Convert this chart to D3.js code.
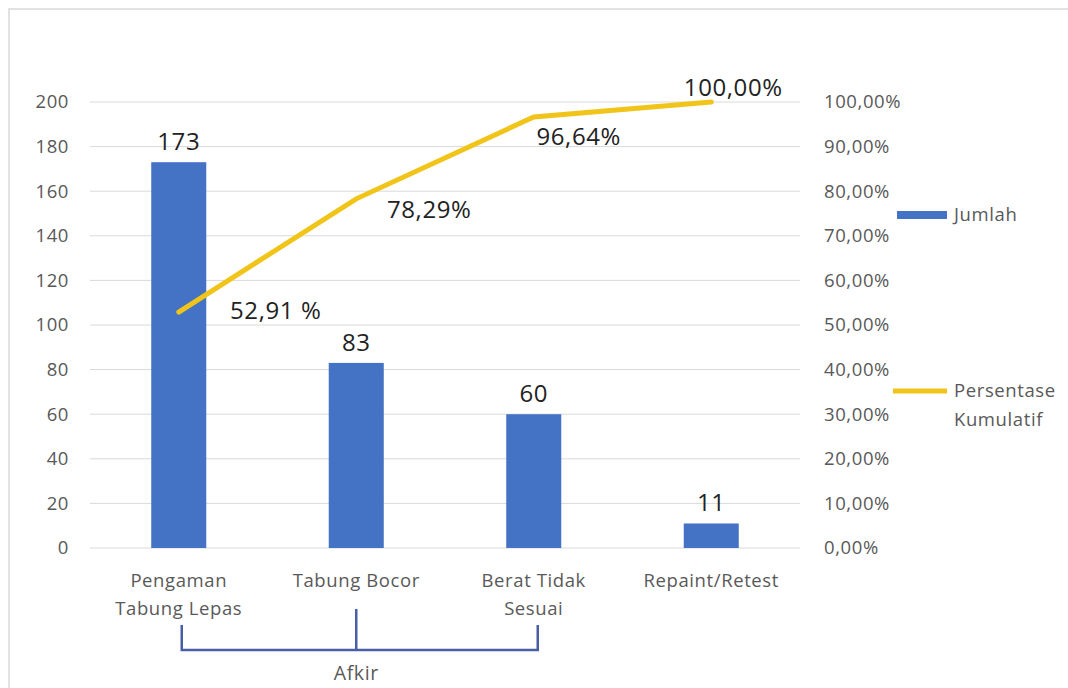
<!DOCTYPE html>
<html><head><meta charset="utf-8">
<script src="https://cdn.jsdelivr.net/npm/d3@7"></script>
<style>body{margin:0;background:#fff}svg{display:block}</style>
</head><body>
<script>
const categories = [["Pengaman","Tabung Lepas"],["Tabung Bocor"],["Berat Tidak","Sesuai"],["Repaint/Retest"]];
const jumlah = [173, 83, 60, 11];
const kumulatif = [52.91, 78.29, 96.64, 100.00];
const kumulatifLabels = ["52,91 %", "78,29%", "96,64%", "100,00%"];
const leftTicks = [0,20,40,60,80,100,120,140,160,180,200];
const rightTicks = [0,10,20,30,40,50,60,70,80,90,100];
const groupLabel = "Afkir";

const W = 1068, H = 688;
const svg = d3.select("body").append("svg").attr("width", W).attr("height", H);
const font = "'Open Sans', sans-serif";
const small = 18.5, ls = "0.6px";
const big = 24, lsBig = "0.6px";

svg.append("rect").attr("x",9).attr("y",9).attr("width",1070).attr("height",700)
  .attr("fill","#fff").attr("stroke","#d9d9d9").attr("stroke-width",1.5);

const x0 = 90, x1 = 800, yTop = 102, yBot = 548;
const x = d3.scaleBand().domain(d3.range(categories.length)).range([x0, x1]).paddingInner(0.69).paddingOuter(0.345);
const yL = d3.scaleLinear().domain([0,200]).range([yBot, yTop]);
const yR = d3.scaleLinear().domain([0,100]).range([yBot, yTop]);

svg.append("g").selectAll("line").data(leftTicks).join("line")
  .attr("x1", x0).attr("x2", x1).attr("y1", d=>yL(d)).attr("y2", d=>yL(d))
  .attr("stroke", "#d9d9d9").attr("stroke-width", 1);

svg.append("g").selectAll("text").data(leftTicks).join("text")
  .attr("x", 69).attr("y", d=>yL(d)).attr("dy","0.35em").attr("text-anchor","end")
  .attr("font-family", font).attr("font-size", small).attr("letter-spacing", ls).attr("fill","#595959").text(d=>d);

const fmtPct = d => d3.format(".2f")(d).replace(".", ",") + "%";
svg.append("g").selectAll("text").data(rightTicks).join("text")
  .attr("x", 824).attr("y", d=>yR(d)).attr("dy","0.35em").attr("text-anchor","start")
  .attr("font-family", font).attr("font-size", small).attr("letter-spacing", ls).attr("fill","#595959").text(fmtPct);

svg.append("g").selectAll("rect").data(jumlah).join("rect")
  .attr("x", (d,i)=>x(i)).attr("width", x.bandwidth())
  .attr("y", d=>yL(d)).attr("height", d=>yBot - yL(d)).attr("fill", "#4472C4");

svg.append("g").selectAll("text").data(jumlah).join("text")
  .attr("x", (d,i)=>x(i)+x.bandwidth()/2).attr("y", d=>yL(d)-12)
  .attr("text-anchor","middle").attr("font-family", font).attr("font-size", big).attr("letter-spacing", lsBig).attr("fill","#222").text(d=>d);

const cx = i => x(i) + x.bandwidth()/2;
svg.append("path").datum(kumulatif)
  .attr("d", d3.line().x((d,i)=>cx(i)).y(d=>yR(d)))
  .attr("fill","none").attr("stroke","#F0C419").attr("stroke-width",5).attr("stroke-linecap","round");

const lblOff = [[97, -1], [73, 11], [45, 20], [22, -14]];
svg.append("g").selectAll("text").data(kumulatif).join("text")
  .attr("x", (d,i)=>cx(i)+lblOff[i][0]).attr("y", (d,i)=>yR(d)+lblOff[i][1]).attr("dy","0.35em")
  .attr("text-anchor","middle").attr("font-family", font).attr("font-size", big).attr("letter-spacing", lsBig).attr("fill","#222")
  .text((d,i)=>kumulatifLabels[i]);

const cg = svg.append("g").selectAll("text").data(categories).join("text")
  .attr("text-anchor","middle").attr("font-family", font).attr("font-size", small).attr("letter-spacing", ls).attr("fill","#595959");
cg.each(function(lines,i){
  const t = d3.select(this);
  lines.forEach((l,j)=>t.append("tspan").attr("x", cx(i)).attr("y", 587 + j*28).text(l));
});

svg.append("rect").attr("x",897).attr("y",211).attr("width",50).attr("height",8).attr("fill","#4472C4");
svg.append("text").attr("x",954).attr("y",215).attr("dy","0.35em").attr("font-family",font).attr("font-size",small).attr("letter-spacing", ls).attr("fill","#595959").text("Jumlah");
svg.append("line").attr("x1",893).attr("x2",947).attr("y1",391).attr("y2",391).attr("stroke","#F0C419").attr("stroke-width",5);
svg.append("text").attr("x",954).attr("y",391).attr("dy","0.35em").attr("font-family",font).attr("font-size",small).attr("letter-spacing", ls).attr("fill","#595959").text("Persentase");
svg.append("text").attr("x",954).attr("y",420).attr("dy","0.35em").attr("font-family",font).attr("font-size",small).attr("letter-spacing", ls).attr("fill","#595959").text("Kumulatif");

const bc = "#4a5ea8";
const bx = [cx(0)+3, cx(1), cx(2)+4];
const bg = svg.append("g").attr("stroke", bc).attr("stroke-width", 2.5).attr("fill","none");
bg.append("path").attr("d", `M${bx[0]},625 V650 H${bx[2]} V625`);
bg.append("line").attr("x1", bx[1]).attr("x2", bx[1]).attr("y1", 609).attr("y2", 650);
svg.append("text").attr("x", bx[1]).attr("y", 673).attr("dy","0.35em").attr("text-anchor","middle")
  .attr("font-family", font).attr("font-size", 19.5).attr("letter-spacing", ls).attr("fill","#595959").text(groupLabel);
</script>
</body></html>
